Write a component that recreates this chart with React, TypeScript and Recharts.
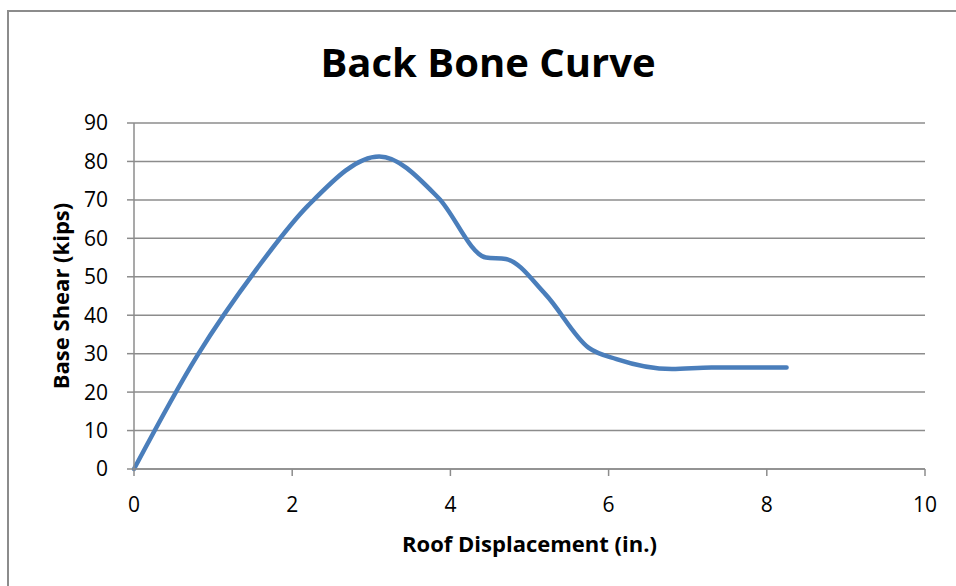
import { CartesianGrid, Label, Line, LineChart, XAxis, YAxis } from "recharts";

// Roof displacement (in.) and base shear (kips)
const displacement = [0, 0.8, 1.55, 2.2, 3.1, 3.85, 4.45, 4.7, 5.2, 5.75, 6.1, 6.8, 7.3, 8.25];
const baseShear = [0, 29.5, 52, 68.5, 81.3, 70.5, 55, 54.6, 45.5, 31.5, 28.6, 26, 26.4, 26.4];

const xTicks = [0, 2, 4, 6, 8, 10];
const yTicks = [0, 10, 20, 30, 40, 50, 60, 70, 80, 90];

const chartData = displacement.map((x, i) => ({ x, y: baseShear[i] }));

const FONT = "'Open Sans', 'Noto Sans', sans-serif";

const YTitle = (props: any) => {
  const { x, y, height } = props.viewBox;
  const cx = x + 16;
  const cy = y + height / 2;
  return (
    <text
      x={cx}
      y={cy}
      transform={`rotate(-90 ${cx} ${cy})`}
      textAnchor="middle"
      dominantBaseline="central"
      fontFamily={FONT}
      fontWeight="bold"
      fontSize={22}
      fill="#000"
    >
      Base Shear (kips)
    </text>
  );
};

const XTitle = (props: any) => {
  const { x, y, width } = props.viewBox;
  return (
    <text
      x={x + width / 2}
      y={y + 83}
      textAnchor="middle"
      fontFamily={FONT}
      fontWeight="bold"
      fontSize={22}
      fill="#000"
    >
      Roof Displacement (in.)
    </text>
  );
};

const App = () => {
  return (
    <div style={{ position: "absolute", left: 0, top: 0, width: 956, height: 586, overflow: "hidden", background: "#fff" }}>
      <div
        style={{
          position: "absolute",
          left: 7,
          top: 10,
          width: 1000,
          height: 700,
          borderLeft: "2px solid #8c8c8c",
          borderTop: "2px solid #8c8c8c",
        }}
      />
      <svg width={956} height={110} style={{ position: "absolute", left: 0, top: 0 }}>
        <text x={488} y={77} textAnchor="middle" fontFamily={FONT} fontWeight="bold" fontSize={40} fill="#000">
          Back Bone Curve
        </text>
      </svg>
      <div style={{ position: "absolute", left: 0, top: 0 }}>
        <LineChart width={956} height={586} data={chartData} margin={{ top: 123, right: 31, bottom: 27, left: 44 }}>
          <CartesianGrid vertical={false} stroke="#8c8c8c" strokeWidth={1.5} />
          <XAxis
            dataKey="x"
            type="number"
            domain={[0, 10]}
            ticks={xTicks}
            interval={0}
            height={90}
            tickSize={7}
            tickMargin={21}
            stroke="#8c8c8c"
            strokeWidth={1.5}
            tick={{ fill: "#000", fontSize: 21, fontFamily: FONT }}
          >
            <Label content={XTitle} />
          </XAxis>
          <YAxis
            type="number"
            domain={[0, 90]}
            ticks={yTicks}
            interval={0}
            width={90}
            tickSize={7}
            tickMargin={19}
            stroke="#8c8c8c"
            strokeWidth={1.5}
            tick={{ fill: "#000", fontSize: 21, fontFamily: FONT }}
          >
            <Label content={YTitle} />
          </YAxis>
          <Line
            type="monotone"
            dataKey="y"
            stroke="#4a7ebb"
            strokeWidth={4.5}
            strokeLinecap="round"
            dot={false}
            isAnimationActive={false}
          />
        </LineChart>
      </div>
    </div>
  );
};

export default App;
